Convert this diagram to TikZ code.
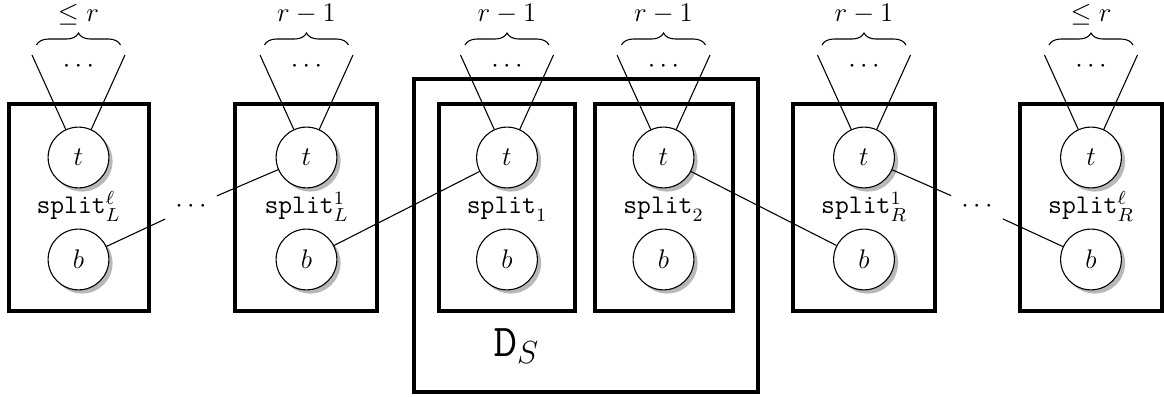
\documentclass[tikz,border=0pt]{standalone}
\usepackage{fix-cm}
\usetikzlibrary{shadows,decorations.pathreplacing}
\begin{document}
\begin{tikzpicture}[x=0.4608pt,y=-0.4608pt,
  every node/.style={font=\fontsize{12.4}{15}\selectfont},
  vert/.style={circle,draw,fill=white,line width=0.5pt,minimum size=28pt,inner sep=0pt,
     drop shadow={shadow xshift=1.7pt,shadow yshift=-1.7pt,fill=black!28,opacity=1}},
  box/.style={draw,line width=1.85pt},
  conn/.style={line width=0.5pt},
  gapdots/.style={inner sep=4.5pt},
  toplabel/.style={anchor=base,inner sep=1pt},
  br/.style={decorate,decoration={brace,amplitude=5.5pt},line width=0.5pt}]
\useasboundingbox (0,0) rectangle (1164,397);
% enclosing box D_S
\draw[box] (414,78.7) rectangle (758,392);
\node[anchor=base west,font=\fontsize{21}{25}\selectfont] (ds) at (486,357) {$\mathtt{D}_S$};
\foreach \i/\cx/\xl/\xr/\sp/\cnt in {
 1/78.5/9/149/{^{\ell}_{L}}/{\leq r},
 2/306.5/235/377/{^{1}_{L}}/{r-1},
 3/507/438.7/575/{_{1}}/{r-1},
 4/663.5/594.7/733.3/{_{2}}/{r-1},
 5/864/793/935/{^{1}_{R}}/{r-1},
 6/1091/1020/1162/{^{\ell}_{R}}/{\leq r}}
{
 \draw[box] (\xl,104) rectangle (\xr,311);
 \node[vert] (t\i) at (\cx,157.5) {$t$};
 \node[vert] (b\i) at (\cx,259.5) {$b$};
 \node[anchor=base,inner sep=1pt] (s\i) at (\cx,214) {$\texttt{split}\sp$};
 \coordinate (fl\i) at (\cx-46.5,55);
 \coordinate (fr\i) at (\cx+46.5,55);
 \draw[conn] (fl\i) -- (t\i) (fr\i) -- (t\i);
 \node[inner sep=1pt] (fd\i) at (\cx,67) {$\cdots$};
 \draw[br] (\cx-42,45) -- (\cx+42,45);
 \node[toplabel] (c\i) at (\cx,21.5) {$\cnt$};
}
\node[gapdots] (d1) at (191,207) {$\cdots$};
\node[gapdots] (d2) at (977,207) {$\cdots$};
\draw[conn] (b1) -- (d1) -- (t2);
\draw[conn] (b2) -- (t3);
\draw[conn] (t4) -- (b5);
\draw[conn] (t5) -- (d2) -- (b6);
\end{tikzpicture}
\end{document}
